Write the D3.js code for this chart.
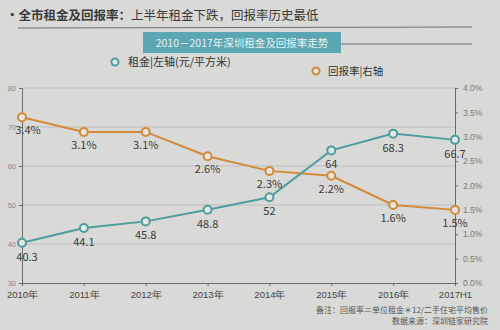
<!DOCTYPE html>
<html><head><meta charset="utf-8">
<script src="https://cdn.jsdelivr.net/npm/d3@7"></script>
<style>body{margin:0;background:#d9d9d7;}svg{display:block;font-family:"Noto Sans CJK SC","Noto Sans",sans-serif;}</style>
</head><body><svg id="c" width="500" height="330"></svg>
<script>
const categories = ["2010年","2011年","2012年","2013年","2014年","2015年","2016年","2017H1"];
const rent = [40.3,44.1,45.8,48.8,52,64,68.3,66.7];
const rate = [3.4,3.1,3.1,2.6,2.3,2.2,1.6,1.5];
const rentLabels = ["40.3","44.1","45.8","48.8","52","64","68.3","66.7"];
const rateLabels = ["3.4%","3.1%","3.1%","2.6%","2.3%","2.2%","1.6%","1.5%"];
const leftTicks = [30,40,50,60,70,80];
const rightTicks = [0,0.5,1,1.5,2,2.5,3,3.5,4];

const svg = d3.select("#c");
const teal = "#4e9c9e", orange = "#d4893a", axisCol = "#6a6a6a";
const x = d3.scalePoint().domain(categories).range([22,455]);
const yL = d3.scaleLinear().domain([30,80]).range([283,88]);
const yR = d3.scaleLinear().domain([0,4]).range([283,88]);

// title
const t = svg.append("text").attr("x",6).attr("y",20).attr("font-size",12.5).attr("fill","#3a3a3a");
t.append("tspan").attr("font-weight","bold").text("·全市租金及回报率：");
t.append("tspan").text("上半年租金下跌，回报率历史最低");
svg.append("line").attr("x1",18).attr("x2",472).attr("y1",28).attr("y2",27).attr("stroke","#6f6f6f").attr("stroke-width",1.2);
svg.append("line").attr("x1",143).attr("x2",472).attr("y1",44).attr("y2",44).attr("stroke","#6f6f6f").attr("stroke-width",1);
svg.append("rect").attr("x",143).attr("y",32).attr("width",198).attr("height",21).attr("fill","#5aa7b3");
svg.append("text").attr("x",242).attr("y",47).attr("text-anchor","middle").attr("font-size",10.5).attr("fill","#e8f2f3").text("2010－2017年深圳租金及回报率走势");

// legend
svg.append("circle").attr("cx",115).attr("cy",62).attr("r",3.5).attr("fill","#e6e6e4").attr("stroke",teal).attr("stroke-width",2);
svg.append("text").attr("x",128).attr("y",66).attr("font-size",11).attr("fill","#333").text("租金|左轴(元/平方米)");
svg.append("circle").attr("cx",316).attr("cy",71).attr("r",3.5).attr("fill","#e6e6e4").attr("stroke",orange).attr("stroke-width",2);
svg.append("text").attr("x",328).attr("y",75).attr("font-size",10.5).attr("fill","#333").text("回报率|右轴");

// gridlines
svg.append("g").selectAll("line").data(leftTicks.slice(1)).join("line")
  .attr("x1",22).attr("x2",455).attr("y1",d=>yL(d)).attr("y2",d=>yL(d))
  .attr("stroke","#bdbdbb").attr("stroke-width",1);

// axes
const gL = svg.append("g").attr("transform","translate(22,0)")
  .call(d3.axisLeft(yL).tickValues(leftTicks).tickSize(3).tickFormat(d3.format("d")));
const gR = svg.append("g").attr("transform","translate(455,0)")
  .call(d3.axisRight(yR).tickValues(rightTicks).tickSize(3).tickFormat(d=>d.toFixed(1)+"%"));
const gB = svg.append("g").attr("transform","translate(0,283)")
  .call(d3.axisBottom(x).tickSize(3));
[gL,gR,gB].forEach(g=>{
  g.select(".domain").attr("stroke",axisCol);
  g.selectAll(".tick line").attr("stroke",axisCol);
});
gL.selectAll(".tick text").attr("font-size",7.5).attr("fill","#8a8a8a").attr("font-family","inherit");
gR.selectAll(".tick text").attr("font-size",8.5).attr("fill","#7a7a7a").attr("font-family","inherit").attr("x",8);
gB.selectAll(".tick text").attr("font-size",9.5).attr("fill","#444").attr("font-family","inherit").attr("y",8);

// lines
const lineR = d3.line().x((d,i)=>x(categories[i])).y(d=>yR(d));
const lineL = d3.line().x((d,i)=>x(categories[i])).y(d=>yL(d));
svg.append("path").datum(rate).attr("d",lineR).attr("fill","none").attr("stroke",orange).attr("stroke-width",2);
svg.append("path").datum(rent).attr("d",lineL).attr("fill","none").attr("stroke",teal).attr("stroke-width",2);
svg.append("g").selectAll("circle").data(rate).join("circle")
  .attr("cx",(d,i)=>x(categories[i])).attr("cy",d=>yR(d)).attr("r",4)
  .attr("fill","#e6e6e4").attr("stroke",orange).attr("stroke-width",2);
svg.append("g").selectAll("circle").data(rent).join("circle")
  .attr("cx",(d,i)=>x(categories[i])).attr("cy",d=>yL(d)).attr("r",4)
  .attr("fill","#e6e6e4").attr("stroke",teal).attr("stroke-width",2);

// data labels
svg.append("g").selectAll("text").data(rate).join("text")
  .attr("x",(d,i)=>x(categories[i]) + (i===0?6:0)).attr("y",d=>yR(d)+17)
  .attr("text-anchor","middle").attr("font-size",11).attr("fill","#3a3a3a")
  .text((d,i)=>rateLabels[i]);
svg.append("g").selectAll("text").data(rent).join("text")
  .attr("x",(d,i)=>x(categories[i]) + (i===0?5:0)).attr("y",d=>yL(d)+18)
  .attr("text-anchor","middle").attr("font-size",11).attr("fill","#3a3a3a")
  .text((d,i)=>rentLabels[i]);

// footnotes
svg.append("text").attr("x",488).attr("y",313).attr("text-anchor","end").attr("font-size",8).attr("fill","#555").text("备注：回报率＝单位租金＊12/二手住宅平均售价");
svg.append("text").attr("x",488).attr("y",324).attr("text-anchor","end").attr("font-size",8).attr("fill","#555").text("数据来源：深圳链家研究院");
</script></body></html>
